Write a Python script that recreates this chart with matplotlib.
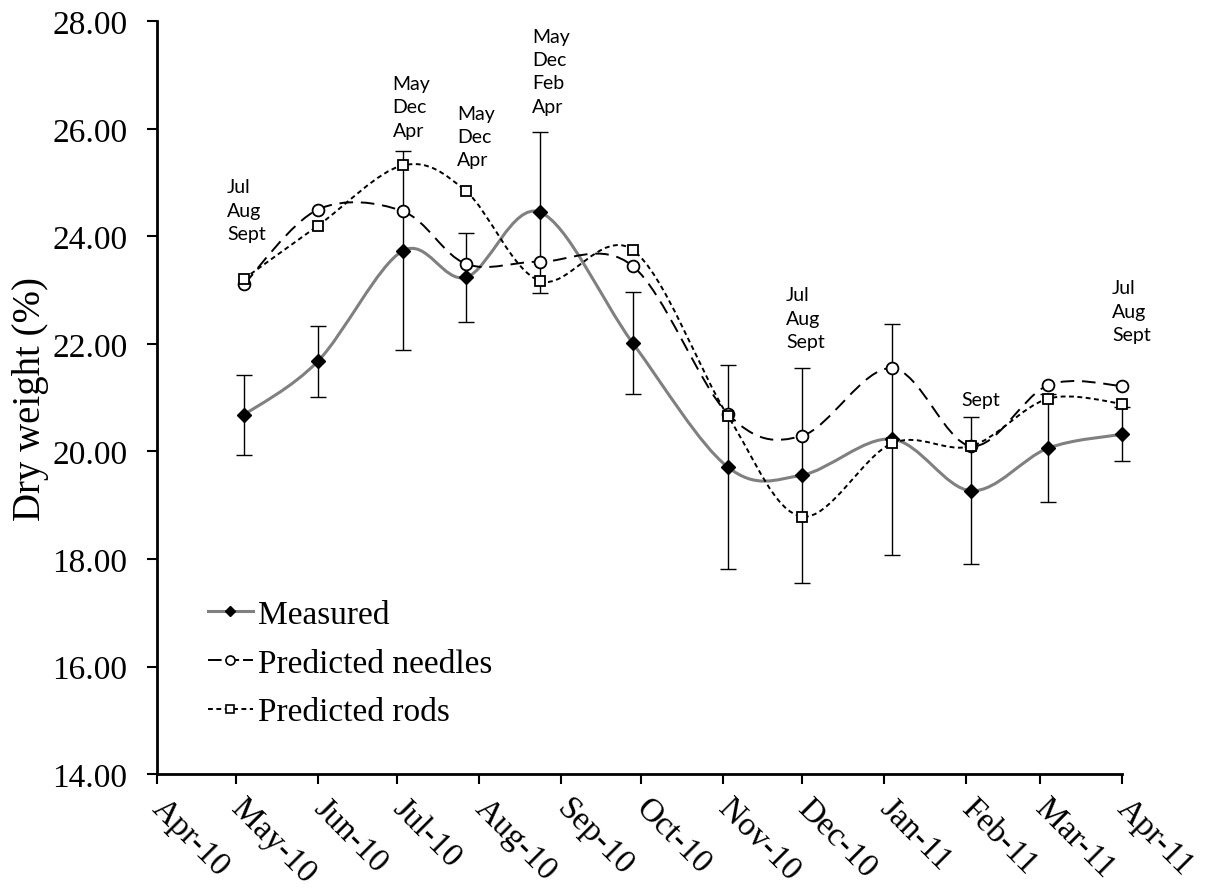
# Dry weight: measured vs predicted, smoothed lines as in the original spreadsheet chart

import datetime as dt
import matplotlib
matplotlib.use('Agg')
import matplotlib.pyplot as plt
import matplotlib.dates as mdates
from matplotlib.path import Path
from matplotlib.patches import PathPatch
from matplotlib.lines import Line2D

dates = ['2010-05-04', '2010-06-01', '2010-07-03', '2010-07-27', '2010-08-24', '2010-09-28',
         '2010-11-03', '2010-12-01', '2011-01-04', '2011-02-03', '2011-03-04', '2011-04-01']
measured = [20.68, 21.68, 23.73, 23.24, 24.45, 22.02, 19.71, 19.56, 20.23, 19.27, 20.06, 20.32]
measured_err = [0.75, 0.66, 1.85, 0.83, 1.50, 0.95, 1.90, 2.00, 2.15, 1.37, 1.00, 0.50]
needles = [23.11, 24.50, 24.47, 23.49, 23.53, 23.45, 20.70, 20.29, 21.55, 20.10, 21.23, 21.22]
rods = [23.21, 24.20, 25.32, 24.84, 23.17, 23.75, 20.66, 18.79, 20.15, 20.10, 20.98, 20.89]

# month labels written above some points (index of point, text, top of text block)
label_idx = [0, 2, 3, 4, 7, 9, 11]
label_txt = ['Jul\nAug\nSept', 'May\nDec\nApr', 'May\nDec\nApr', 'May\nDec\nFeb\nApr',
             'Jul\nAug\nSept', 'Sept', 'Jul\nAug\nSept']
label_top = [25.08, 27.0, 26.45, 27.88, 23.07, 21.12, 23.2]
label_dx = [-17, -10, -9, -8, -16, -10, -10]


def smooth_path(x, y):
    # Bezier segments with Catmull-Rom control points (same idea as Excel "smoothed line")
    n = len(x)
    verts = [(x[0], y[0])]
    codes = [Path.MOVETO]
    for i in range(n - 1):
        x0, y0 = (x[i - 1], y[i - 1]) if i > 0 else (x[i], y[i])
        x3, y3 = (x[i + 2], y[i + 2]) if i + 2 < n else (x[i + 1], y[i + 1])
        c1 = (x[i] + (x[i + 1] - x0) / 6.0, y[i] + (y[i + 1] - y0) / 6.0)
        c2 = (x[i + 1] - (x3 - x[i]) / 6.0, y[i + 1] - (y3 - y[i]) / 6.0)
        verts += [c1, c2, (x[i + 1], y[i + 1])]
        codes += [Path.CURVE4] * 3
    return Path(verts, codes)


x = [mdates.date2num(dt.datetime.strptime(d, '%Y-%m-%d')) for d in dates]

plt.rcParams['font.family'] = ['Liberation Serif', 'DejaVu Serif']
fig = plt.figure(figsize=(12.05, 8.95), dpi=100)
ax = fig.add_axes([0.130, 0.134, 0.801, 0.841])

eb = ax.errorbar(x, measured, yerr=measured_err, fmt='none', ecolor='black', elinewidth=1.0,
                 capsize=6, capthick=1.0, zorder=2)
for art in eb.lines[1] + eb.lines[2]:
    art.set_clip_on(False)

ax.add_patch(PathPatch(smooth_path(x, measured), fill=False, edgecolor='#808080', lw=2.2,
                       zorder=3, clip_on=False))
ax.add_patch(PathPatch(smooth_path(x, needles), fill=False, edgecolor='black', lw=1.4,
                       linestyle=(0, (7, 4)), zorder=3, clip_on=False))
ax.add_patch(PathPatch(smooth_path(x, rods), fill=False, edgecolor='black', lw=1.4,
                       linestyle=(0, (2.5, 1.8)), zorder=3, clip_on=False))

ax.plot(x, measured, ls='none', marker='D', ms=7, color='black', zorder=5, clip_on=False)
ax.plot(x, needles, ls='none', marker='o', ms=8.5, mfc='white', mec='black', mew=1.3, zorder=5,
        clip_on=False)
ax.plot(x, rods, ls='none', marker='s', ms=7.5, mfc='white', mec='black', mew=1.3, zorder=5,
        clip_on=False)

for i, t, top, dx in zip(label_idx, label_txt, label_top, label_dx):
    ax.annotate(t, xy=(x[i], top), xytext=(dx, 0), textcoords='offset pixels',
                ha='left', va='top', family=['Lato', 'DejaVu Sans'], fontsize=14,
                linespacing=1.45, zorder=6)

handles = [
    Line2D([], [], color='#808080', lw=2.2, marker='D', ms=5, mfc='black', mec='black'),
    Line2D([], [], color='black', lw=1.4, ls=(0, (7, 2)), marker='o', ms=6.5, mfc='white',
           mec='black', mew=1.2),
    Line2D([], [], color='black', lw=1.4, ls=(0, (2.5, 1.8)), marker='s', ms=5.5, mfc='white',
           mec='black', mew=1.2),
]
ax.legend(handles, ['Measured', 'Predicted needles', 'Predicted rods'], loc='upper left',
          bbox_to_anchor=(0.039, 0.25), frameon=False, fontsize=24, handlelength=1.35,
          handletextpad=0.15, labelspacing=0.55, borderaxespad=0)

ax.set_xlim(mdates.date2num(dt.datetime(2010, 4, 1)), mdates.date2num(dt.datetime(2011, 4, 1)))
ax.set_ylim(14, 28)
ax.set_yticks(range(14, 29, 2))
ax.yaxis.set_major_formatter(matplotlib.ticker.FormatStrFormatter('%.2f'))
ax.xaxis.set_major_locator(mdates.MonthLocator())
ax.xaxis.set_major_formatter(mdates.DateFormatter('%b-%y'))

for s in ['top', 'right']:
    ax.spines[s].set_visible(False)
for s in ['left', 'bottom']:
    ax.spines[s].set_linewidth(2)
ax.tick_params(axis='both', direction='out', length=7, width=1.5, labelsize=24)
ax.tick_params(axis='y', pad=14)
ax.tick_params(axis='x', pad=14)
plt.setp(ax.get_xticklabels(), rotation=-45, ha='left', va='center', rotation_mode='anchor')
ax.set_ylabel('Dry weight (%)', fontsize=28, labelpad=2)

fig.savefig('out.png', dpi=100)
